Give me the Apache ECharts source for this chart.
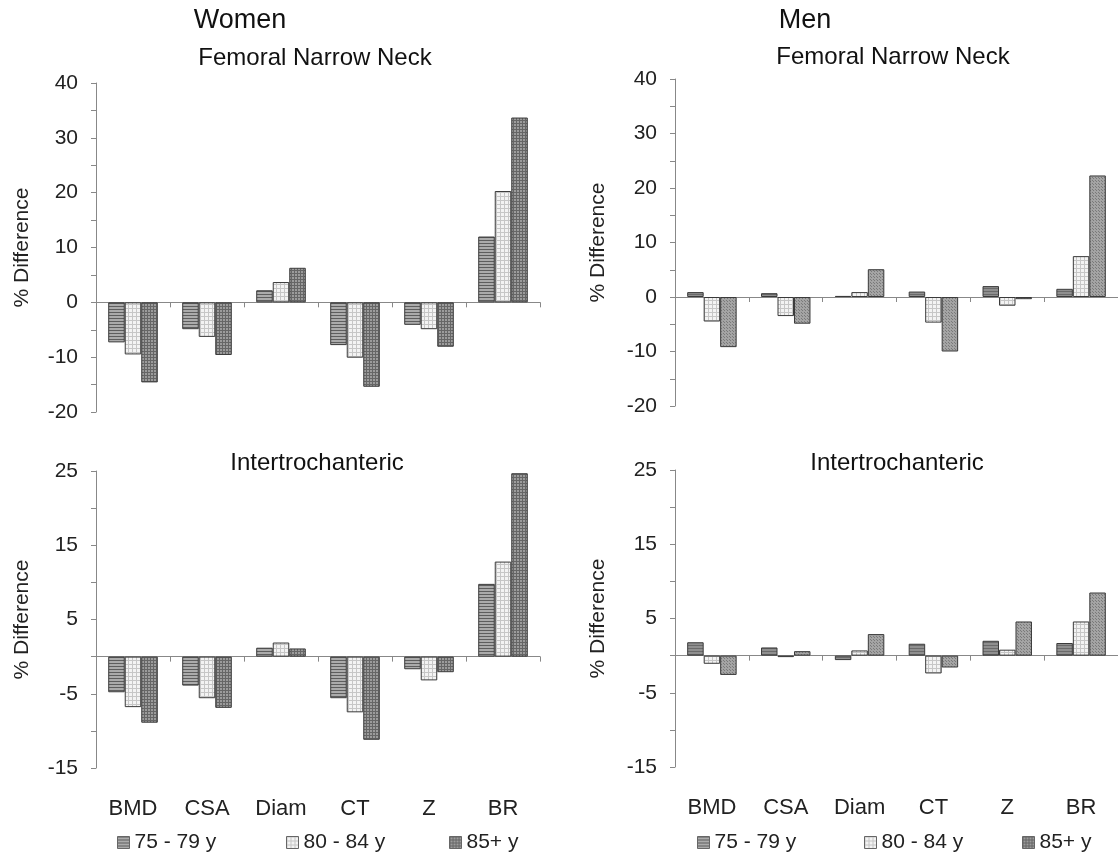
<!DOCTYPE html>
<html>
<head>
<meta charset="utf-8">
<script src="https://cdn.jsdelivr.net/npm/echarts@6/dist/echarts.min.js"></script>
<style>html,body{margin:0;padding:0;background:#fff}#c{width:1118px;height:862px}</style>
</head>
<body>
<div id="c"></div>
<script>
var categories = ['BMD', 'CSA', 'Diam', 'CT', 'Z', 'BR'];
var seriesNames = ['75 - 79 y', '80 - 84 y', '85+ y'];

var womenNeck75 = [-7.3, -4.9, 2.2, -7.8, -4.1, 12.0];
var womenNeck80 = [-9.5, -6.3, 3.7, -10.1, -4.9, 20.3];
var womenNeck85 = [-14.6, -9.6, 6.3, -15.4, -8.1, 33.7];

var menNeck75 = [0.9, 0.7, 0.2, 1.0, 2.0, 1.5];
var menNeck80 = [-4.5, -3.5, 0.9, -4.7, -1.6, 7.5];
var menNeck85 = [-9.2, -4.9, 5.1, -10.0, -0.4, 22.3];

var womenIT75 = [-4.8, -3.9, 1.2, -5.6, -1.7, 9.8];
var womenIT80 = [-6.8, -5.6, 1.9, -7.5, -3.2, 12.8];
var womenIT85 = [-8.9, -6.9, 1.1, -11.2, -2.1, 24.7];

var menIT75 = [1.8, 1.1, -0.6, 1.6, 2.0, 1.7];
var menIT80 = [-1.1, -0.2, 0.7, -2.4, 0.8, 4.6];
var menIT85 = [-2.6, 0.6, 2.9, -1.6, 4.6, 8.5];

var neckTicks = [-20, -10, 0, 10, 20, 30, 40];
var itTicks = [-15, -5, 5, 15, 25];

var FONT = '"Liberation Sans", Arial, sans-serif';

function makePattern(w, h, bg, fg, fn) {
  var c = document.createElement('canvas');
  c.width = w; c.height = h;
  var g = c.getContext('2d');
  g.fillStyle = bg; g.fillRect(0, 0, w, h);
  g.fillStyle = fg;
  fn(g);
  return { image: c, repeat: 'repeat' };
}
var patW = [
  makePattern(4, 3, '#ababab', '#5e5e5e', function (g) { g.fillRect(0, 0, 4, 1); }),
  makePattern(4, 4, '#f3f3f3', '#c6c6c6', function (g) { g.fillRect(0, 0, 4, 1); g.fillRect(0, 0, 1, 4); }),
  makePattern(3, 3, '#9c9c9c', '#666666', function (g) { g.fillRect(0, 0, 3, 1); g.fillRect(0, 0, 1, 3); })
];
var patM = [
  makePattern(4, 3, '#8f8f8f', '#6a6a6a', function (g) { g.fillRect(0, 0, 4, 1); }),
  makePattern(4, 4, '#f3f3f3', '#c6c6c6', function (g) { g.fillRect(0, 0, 4, 1); g.fillRect(0, 0, 1, 4); }),
  makePattern(3, 3, '#a4a4a4', '#7a7a7a', function (g) { g.fillRect(0, 0, 1, 1); g.fillRect(1, 1, 1, 1); })
];

var grids = [
  { left: 96, top: 83, width: 444, height: 329 },
  { left: 675, top: 79, width: 444, height: 327 },
  { left: 96, top: 471, width: 444, height: 297 },
  { left: 675, top: 470, width: 444, height: 297 }
];

var xAxes = [], yAxes = [], series = [];
var panelData = [
  [womenNeck75, womenNeck80, womenNeck85],
  [menNeck75, menNeck80, menNeck85],
  [womenIT75, womenIT80, womenIT85],
  [menIT75, menIT80, menIT85]
];
var ranges = [
  { min: -20, max: 40, ticks: neckTicks },
  { min: -20, max: 40, ticks: neckTicks },
  { min: -15, max: 25, ticks: itTicks },
  { min: -15, max: 25, ticks: itTicks }
];

for (var i = 0; i < 4; i++) {
  (function (i) {
    var r = ranges[i];
    xAxes.push({
      type: 'category', gridIndex: i, data: categories,
      axisLine: { show: true, onZero: true, lineStyle: { color: '#888', width: 1 } },
      axisTick: { show: true, interval: 0, length: 5, lineStyle: { color: '#888' } },
      axisLabel: { show: false }, splitLine: { show: false }
    });
    yAxes.push({
      type: 'value', gridIndex: i, min: r.min, max: r.max, interval: 5,
      name: '% Difference', nameLocation: 'middle', nameGap: i % 2 === 0 ? 63 : 66,
      nameTextStyle: { fontSize: 21, color: '#222', fontFamily: FONT },
      axisLine: { show: true, lineStyle: { color: '#888', width: 1 } },
      axisTick: { show: true, length: 5, lineStyle: { color: '#888' } },
      splitLine: { show: false },
      axisLabel: {
        fontSize: 21, color: '#222', fontFamily: FONT, margin: 18,
        formatter: function (v) { return r.ticks.indexOf(v) >= 0 ? String(v) : ''; }
      }
    });
    var pats = (i % 2 === 0) ? patW : patM;
    for (var s = 0; s < 3; s++) {
      series.push({
        type: 'bar', name: seriesNames[s], xAxisIndex: i, yAxisIndex: i,
        data: panelData[i][s], barGap: '0%', barCategoryGap: '33%',
        itemStyle: { color: pats[s], borderColor: '#3a3a3a', borderWidth: 1 },
        emphasis: { disabled: true }, animation: false
      });
    }
  })(i);
}
// bottom category label axes
[2, 3].forEach(function (gi) {
  xAxes.push({
    type: 'category', gridIndex: gi, data: categories, position: 'bottom',
    axisLine: { show: false, onZero: false }, axisTick: { show: false },
    axisLabel: { show: true, fontSize: 22, color: '#222', fontFamily: FONT, margin: 30, interval: 0 },
    splitLine: { show: false }
  });
});

function legendAt(name, left) {
  return {
    data: [{ name: name, icon: 'rect' }], left: left, top: 827, itemWidth: 12, itemHeight: 12, itemGap: 5,
    itemStyle: { borderColor: '#666', borderWidth: 1 },
    textStyle: { fontSize: 21, color: '#222', fontFamily: FONT }, selectedMode: false
  };
}

function txt(text, x, y, size) {
  return { type: 'text', x: x, y: y, style: { text: text, x: 0, y: 0, textAlign: 'center', textVerticalAlign: 'middle', font: size + 'px ' + FONT, fill: '#111' } };
}

var option = {
  backgroundColor: '#fff',
  animation: false,
  grid: grids,
  xAxis: xAxes,
  yAxis: yAxes,
  series: series,
  legend: [
    legendAt(seriesNames[0], 112), legendAt(seriesNames[1], 281), legendAt(seriesNames[2], 444),
    legendAt(seriesNames[0], 692), legendAt(seriesNames[1], 859), legendAt(seriesNames[2], 1017)
  ],
  graphic: [
    txt('Women', 240, 21, 27),
    txt('Femoral Narrow Neck', 315, 58, 24),
    txt('Men', 805, 21, 27),
    txt('Femoral Narrow Neck', 893, 57, 24),
    txt('Intertrochanteric', 317, 463, 24),
    txt('Intertrochanteric', 897, 463, 24)
  ]
};

var chart = echarts.init(document.getElementById('c'), null, { renderer: 'canvas' });
chart.setOption(option);
</script>
</body>
</html>
